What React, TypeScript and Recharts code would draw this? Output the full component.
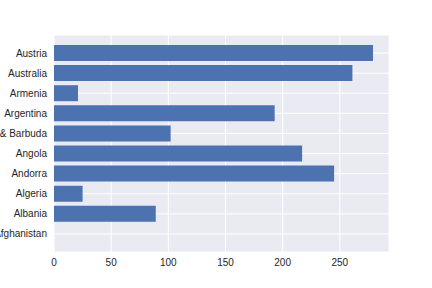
import { Bar, BarChart, CartesianGrid, XAxis, YAxis } from "recharts";

const countries = [
  "Afghanistan",
  "Albania",
  "Algeria",
  "Andorra",
  "Angola",
  "Antigua & Barbuda",
  "Argentina",
  "Armenia",
  "Australia",
  "Austria",
];

const servings = [0, 89, 25, 245, 217, 102, 193, 21, 261, 279];

const xTicks = [0, 50, 100, 150, 200, 250];

const data = countries.map((country, i) => ({ country, value: servings[i] }));

const FONT = "Liberation Sans, Arial, sans-serif";
const tickStyle = { fill: "#262626", fontSize: 10, fontFamily: FONT };

type TickProps = {
  x?: number;
  y?: number;
  payload?: { value: string };
};

function CountryTick({ x = 0, y = 0, payload }: TickProps) {
  return (
    <text x={x} y={y} dy="0.35em" textAnchor="end" fill="#262626" fontSize={10} fontFamily={FONT}>
      {payload?.value}
    </text>
  );
}

export default function App() {
  return (
    <div style={{ position: "absolute", left: 0, top: 0, background: "#fff" }}>
      <BarChart
        width={432}
        height={288}
        data={data}
        layout="vertical"
        margin={{ top: 35, right: 43, left: 0, bottom: 0 }}
      >
        <CartesianGrid fill="#EAEAF2" stroke="#fff" strokeWidth={1} />
        <XAxis
          type="number"
          domain={[0, 293]}
          ticks={xTicks}
          height={36}
          axisLine={false}
          tickLine={false}
          tickSize={0}
          tickMargin={7}
          tick={tickStyle}
          allowDataOverflow
        />
        <YAxis
          type="category"
          dataKey="country"
          reversed
          width={54}
          padding={{ top: 8, bottom: 8 }}
          axisLine={false}
          tickLine={false}
          tickSize={0}
          tickMargin={7}
          interval={0}
          tick={(props) => <CountryTick {...props} />}
        />
        <Bar dataKey="value" fill="#4C72B0" barSize={16} isAnimationActive={false} />
      </BarChart>
    </div>
  );
}
